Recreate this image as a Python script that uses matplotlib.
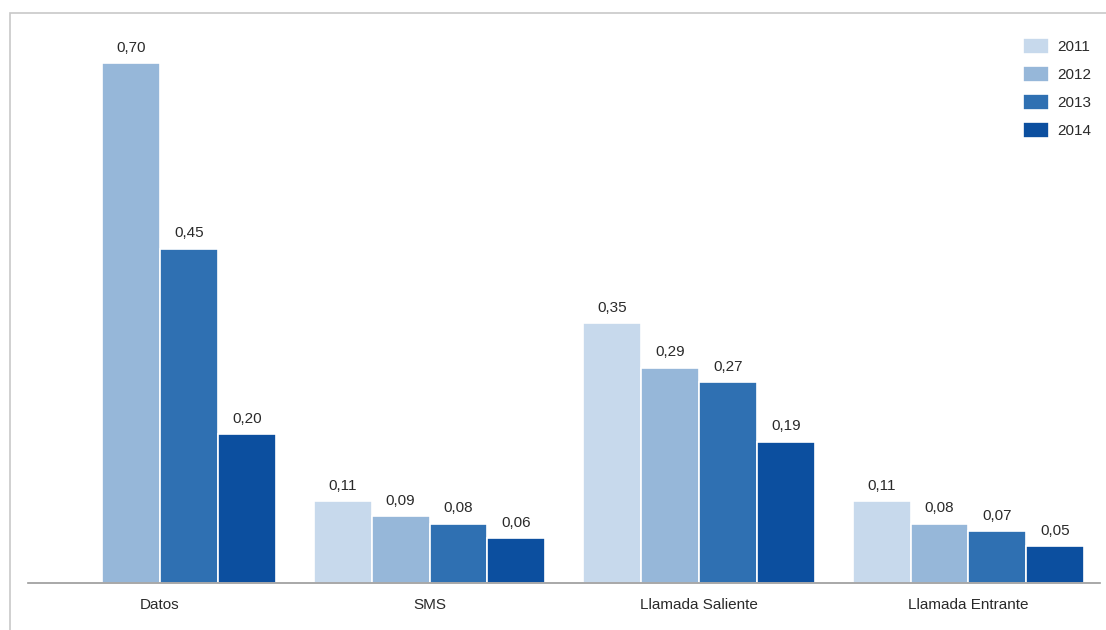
import matplotlib
matplotlib.use("Agg")
import matplotlib.pyplot as plt
from matplotlib.patches import Rectangle
import numpy as np

plt.rcParams['font.family'] = ['Liberation Sans', 'DejaVu Sans']

categories = ["Datos", "SMS", "Llamada Saliente", "Llamada Entrante"]
years = ["2011", "2012", "2013", "2014"]
values_2011 = [None, 0.11, 0.35, 0.11]
values_2012 = [0.70, 0.09, 0.29, 0.08]
values_2013 = [0.45, 0.08, 0.27, 0.07]
values_2014 = [0.20, 0.06, 0.19, 0.05]
series = [values_2011, values_2012, values_2013, values_2014]
colors = ["#c7d9ec", "#96b7d9", "#2f70b2", "#0c4f9f"]
text_color = "#2a2a2a"

fig = plt.figure(figsize=(11.06, 6.30), dpi=100)
W, H = 1106, 630

# outer frame
fig.patches.append(Rectangle((10 / W, -0.1), 1.2, (H - 13) / H + 0.1,
                             transform=fig.transFigure, fill=False,
                             edgecolor="#c8c8c8", linewidth=1.2))

ax = fig.add_axes([28 / W, 47 / H, (1100 - 28) / W, (583 - 20) / H])
ax.set_xlim(-0.49, 3.488)
ax.set_ylim(0, (583 - 20) / 743)

x = np.arange(len(categories))
width = 0.215
for i, (yr, vals, c) in enumerate(zip(years, series, colors)):
    pos = x + (i - 1.5) * width
    heights = [v if v is not None else 0 for v in vals]
    ax.bar(pos, heights, width, color=c, edgecolor="white",
           linewidth=1.2, label=yr)
    for p, v in zip(pos, vals):
        if v is None:
            continue
        ax.annotate(f"{v:.2f}".replace(".", ","), (p, v),
                    xytext=(0, 6), textcoords="offset points",
                    ha="center", va="bottom", fontsize=11, color=text_color)

for side in ["left", "right", "top"]:
    ax.spines[side].set_visible(False)
ax.spines["bottom"].set_color("#9a9a9a")
ax.spines["bottom"].set_linewidth(1.2)
ax.set_yticks([])
ax.set_xticks(x)
ax.set_xticklabels(categories, fontsize=11, color=text_color)
ax.tick_params(axis="x", length=0, pad=11)

leg = ax.legend(loc="upper right", bbox_to_anchor=(1102 / W, (H - 27) / H),
                bbox_transform=fig.transFigure, frameon=False,
                fontsize=11, handlelength=1.7, handleheight=1.25,
                labelspacing=0.78, handletextpad=0.55, borderpad=0.2)
for t in leg.get_texts():
    t.set_color(text_color)

fig.savefig("out.png", dpi=100, facecolor="white")
